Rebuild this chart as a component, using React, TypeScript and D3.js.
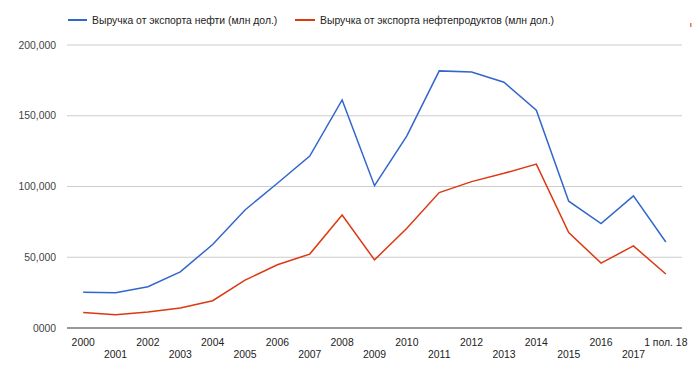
import React from "react";
import * as d3 from "d3";

const categories = ["2000","2001","2002","2003","2004","2005","2006","2007","2008","2009","2010","2011","2012","2013","2014","2015","2016","2017","1 пол. 18"];
const oil = [25272, 24999, 29113, 39679, 59046, 83438, 102282, 121484, 161147, 100593, 135799, 181712, 180930, 173668, 153887, 89587, 73743, 93342, 60800];
const products = [10919, 9375, 11300, 14064, 19274, 33792, 44682, 52226, 79867, 48145, 70470, 95679, 103445, 109296, 115794, 67407, 45853, 58000, 38200];
const yTicks = [0, 50000, 100000, 150000, 200000];
const yTickLabels = ["0000", "50,000", "100,000", "150,000", "200,000"];
const seriesNames = ["Выручка от экспорта нефти (млн дол.)", "Выручка от экспорта нефтепродуктов (млн дол.)"];
const colors = ["#3366cc", "#dc3912"];

const W = 696, H = 378;
const left = 67, right = 682, top = 45, bottom = 328;

export default function App() {
  const x = d3.scaleBand<string>().domain(categories).range([left, right]);
  const y = d3.scaleLinear().domain([0, 200000]).range([bottom, top]);
  const cx = (c: string) => (x(c) as number) + x.bandwidth() / 2;
  const line = d3.line<number>().x((_, i) => cx(categories[i])).y((d) => y(d));
  const font = "Arial, 'Liberation Sans', sans-serif";
  const fs = 10.4;
  return (
    <svg width={W} height={H} style={{ position: "absolute", left: 0, top: 0, background: "#fff" }} fontFamily={font}>
      {yTicks.map((t, i) => (
        <g key={t}>
          {t !== 0 && <line x1={left} x2={right} y1={y(t)} y2={y(t)} stroke="#cccccc" strokeWidth={1} />}
          <text x={56} y={y(t)} dy="0.36em" textAnchor="end" fontSize={fs} fill="#444">{yTickLabels[i]}</text>
        </g>
      ))}
      {[oil, products].map((s, i) => (
        <path key={i} d={line(s) as string} fill="none" stroke={colors[i]} strokeWidth={1.5} />
      ))}
      <line x1={left} x2={right} y1={bottom} y2={bottom} stroke="#333" strokeWidth={1} />
      {categories.map((c, i) => (
        <text key={c} x={cx(c)} y={i % 2 === 0 ? 345.5 : 357.5} textAnchor="middle" fontSize={fs} fill="#222">{c}</text>
      ))}
      <line x1={68} x2={87} y1={20} y2={20} stroke={colors[0]} strokeWidth={2} />
      <text x={92} y={20} dy="0.36em" fontSize={fs} fill="#222">{seriesNames[0]}</text>
      <line x1={295} x2={315} y1={20} y2={20} stroke={colors[1]} strokeWidth={2} />
      <text x={320} y={20} dy="0.36em" fontSize={fs} fill="#222">{seriesNames[1]}</text>
      <rect x={690} y={23} width={1.5} height={4} fill={colors[1]} opacity={0.7} />
    </svg>
  );
}
